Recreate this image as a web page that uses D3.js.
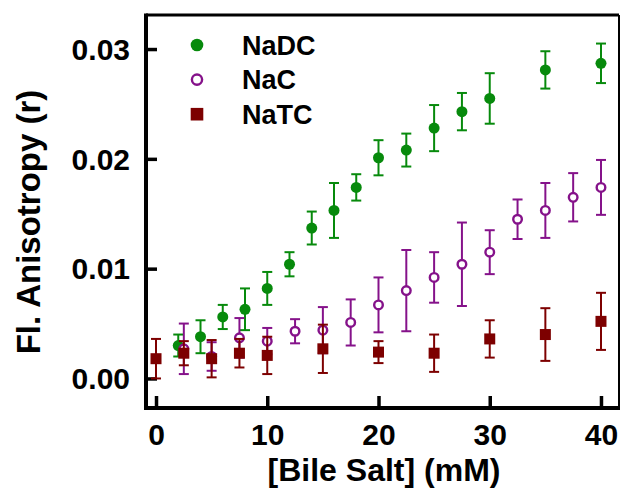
<!DOCTYPE html>
<html>
<head>
<meta charset="utf-8">
<script src="https://cdn.jsdelivr.net/npm/d3@7"></script>
<style>
  body { margin: 0; background: #fff; }
  text { font-family: "Liberation Sans", Arial, sans-serif; font-weight: bold; }
</style>
</head>
<body>
<svg id="svg" width="621" height="489"></svg>
<script>
const svg = d3.select("#svg");

// NaDC
const naDCx = [2, 4, 6, 8, 10, 12, 14, 16, 18, 20, 22.5, 25, 27.5, 30, 35, 40];
const naDCy = [0.0030, 0.0038, 0.0056, 0.0063, 0.0082, 0.0104, 0.0137, 0.0153, 0.0174, 0.0201, 0.0208, 0.0228, 0.0243, 0.0255, 0.0281, 0.0287];
const naDCerr = [0.0010, 0.0015, 0.0011, 0.0019, 0.0015, 0.0011, 0.0015, 0.0025, 0.0012, 0.0016, 0.0015, 0.0021, 0.0017, 0.0023, 0.0017, 0.0018];

// NaC
const naCx = [2.5, 5, 7.5, 10, 12.5, 15, 17.5, 20, 22.5, 25, 27.5, 30, 32.5, 35, 37.5, 40];
const naCy = [0.0027, 0.0020, 0.0037, 0.0034, 0.0043, 0.0044, 0.0051, 0.0067, 0.0080, 0.0092, 0.0104, 0.0115, 0.0145, 0.0153, 0.0165, 0.0174];
const naCerr = [0.0023, 0.0013, 0.0018, 0.0012, 0.0011, 0.0021, 0.0021, 0.0025, 0.0037, 0.0023, 0.0038, 0.0020, 0.0018, 0.0025, 0.0022, 0.0025];

// NaTC
const naTCx = [0, 2.5, 5, 7.5, 10, 15, 20, 25, 30, 35, 40];
const naTCy = [0.0018, 0.0023, 0.0018, 0.0023, 0.0021, 0.0027, 0.0024, 0.0023, 0.0036, 0.0040, 0.0052];
const naTCerr = [0.0018, 0.0011, 0.0017, 0.0013, 0.0017, 0.0022, 0.0010, 0.0017, 0.0017, 0.0024, 0.0026];

const xTicks = [0, 10, 20, 30, 40];
const yTicks = [0, 0.01, 0.02, 0.03];

const plotLeft = 146, plotRight = 619, plotTop = 15, plotBottom = 408;

// domains picked so that the ticks land where the reference puts them
const x = d3.scaleLinear().domain([-0.9, 41.62]).range([plotLeft, plotRight]);
const y = d3.scaleLinear().domain([-0.00269, 0.0331]).range([plotBottom, plotTop]);

const series = [
  { name: "NaDC", xs: naDCx, ys: naDCy, es: naDCerr, color: "#078a0c", shape: "filled" },
  { name: "NaC", xs: naCx, ys: naCy, es: naCerr, color: "#85128a", shape: "open" },
  { name: "NaTC", xs: naTCx, ys: naTCy, es: naTCerr, color: "#7d0000", shape: "square" },
];

// axes, ticks point inward
const xAxis = svg.append("g")
  .attr("transform", `translate(0,${plotBottom})`)
  .call(d3.axisBottom(x).tickValues(xTicks).tickSizeInner(-12).tickSizeOuter(0).tickPadding(16).tickFormat(d3.format("d")));
const yAxis = svg.append("g")
  .attr("transform", `translate(${plotLeft},0)`)
  .call(d3.axisLeft(y).tickValues(yTicks).tickSizeInner(-11).tickSizeOuter(0).tickPadding(16).tickFormat(d3.format(".2f")));

[xAxis, yAxis].forEach((g) => {
  g.select(".domain").remove();
  g.selectAll(".tick line").attr("stroke", "#000").attr("stroke-width", 3.5);
  g.selectAll(".tick text").attr("fill", "#000").style("font-size", "30px");
});
xAxis.selectAll(".tick text").attr("dy", "0.71em");
yAxis.selectAll(".tick text").attr("dy", "0.34em");

// frame
svg.append("line").attr("x1", plotLeft).attr("x2", plotRight).attr("y1", plotTop).attr("y2", plotTop)
  .attr("stroke", "#000").attr("stroke-width", 3);
svg.append("line").attr("x1", plotRight).attr("x2", plotRight).attr("y1", plotTop).attr("y2", plotBottom)
  .attr("stroke", "#000").attr("stroke-width", 2);
svg.append("line").attr("x1", plotLeft).attr("x2", plotLeft).attr("y1", plotTop - 1.5).attr("y2", plotBottom + 2)
  .attr("stroke", "#000").attr("stroke-width", 4);
svg.append("line").attr("x1", plotLeft - 2).attr("x2", plotRight + 1).attr("y1", plotBottom).attr("y2", plotBottom)
  .attr("stroke", "#000").attr("stroke-width", 4);

function drawMarker(g, coords, s, r) {
  if (s.shape === "square") {
    g.selectAll("rect.m").data(coords).join("rect").attr("class", "m")
      .attr("x", (d) => d[0] - r).attr("y", (d) => d[1] - r)
      .attr("width", 2 * r).attr("height", 2 * r).attr("fill", s.color);
  } else {
    g.selectAll("circle.m").data(coords).join("circle").attr("class", "m")
      .attr("cx", (d) => d[0]).attr("cy", (d) => d[1])
      .attr("r", s.shape === "open" ? r - 1.2 : r)
      .attr("fill", s.shape === "open" ? "#fff" : s.color)
      .attr("stroke", s.shape === "open" ? s.color : "none")
      .attr("stroke-width", 2.4);
  }
}

// data
series.forEach((s) => {
  const pts = s.xs.map((xv, i) => ({ x: xv, y: s.ys[i], e: s.es[i] }));
  const g = svg.append("g").attr("class", "series-" + s.name);

  const bars = g.selectAll("g.err").data(pts).join("g").attr("class", "err")
    .attr("stroke", s.color).attr("stroke-width", 2);
  bars.append("line")
    .attr("x1", (d) => x(d.x)).attr("x2", (d) => x(d.x))
    .attr("y1", (d) => y(d.y + d.e)).attr("y2", (d) => y(d.y - d.e));
  bars.append("line")
    .attr("x1", (d) => x(d.x) - 5).attr("x2", (d) => x(d.x) + 5)
    .attr("y1", (d) => y(d.y + d.e)).attr("y2", (d) => y(d.y + d.e));
  bars.append("line")
    .attr("x1", (d) => x(d.x) - 5).attr("x2", (d) => x(d.x) + 5)
    .attr("y1", (d) => y(d.y - d.e)).attr("y2", (d) => y(d.y - d.e));

  drawMarker(g, pts.map((d) => [x(d.x), y(d.y)]), s, 5.5);
});

// legend
const legend = svg.append("g").attr("class", "legend");
series.forEach((s, i) => {
  const cy = 45 + i * 34.6;
  drawMarker(legend.append("g"), [[197, cy]], s, 6.3);
  legend.append("text").attr("x", 242).attr("y", cy).attr("dy", "0.36em")
    .style("font-size", "27px").attr("fill", "#000").text(s.name);
});

// axis titles
svg.append("text")
  .attr("x", 384).attr("y", 481)
  .attr("text-anchor", "middle").style("font-size", "32px").attr("fill", "#000")
  .text("[Bile Salt] (mM)");
svg.append("text")
  .attr("transform", "translate(40,222) rotate(-90)")
  .attr("text-anchor", "middle").style("font-size", "33px").attr("fill", "#000")
  .text("Fl. Anisotropy (r)");
</script>
</body>
</html>
